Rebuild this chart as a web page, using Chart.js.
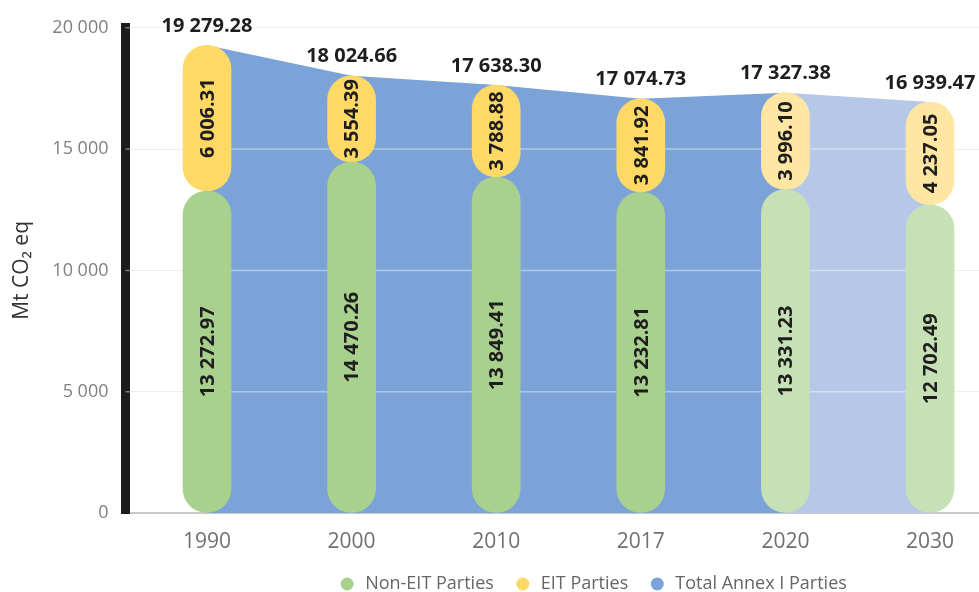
<!DOCTYPE html>
<html>
<head>
<meta charset="utf-8">
<script src="https://cdn.jsdelivr.net/npm/chart.js@4"></script>
<style>
  html, body { margin: 0; padding: 0; background: #fff; overflow: hidden; }
  #wrap { width: 1180px; height: 592px; }
</style>
</head>
<body>
<div id="wrap"><canvas id="myChart" width="1180" height="592"></canvas></div>
<script>
const years = ["1990", "2000", "2010", "2017", "2020", "2030"];
const nonEit = [13272.97, 14470.26, 13849.41, 13232.81, 13331.23, 12702.49];
const eit = [6006.31, 3554.39, 3788.88, 3841.92, 3996.10, 4237.05];
const totals = [19279.28, 18024.66, 17638.30, 17074.73, 17327.38, 16939.47];
const yTicks = [0, 5000, 10000, 15000, 20000];
const projected = [false, false, false, false, true, true]; // 2020 / 2030 drawn paler

// plot geometry (px) -> x scale range, so the category centres sit where they do in the picture
const plotLeft = 125.5, plotRight = 1180, firstX = 207, step = 144.6;
const xMin = -(firstX - plotLeft) / step;
const xMax = (plotRight - firstX) / step;

const fmt = (n, d) => {
  const [i, f] = n.toFixed(d).split(".");
  const s = i.replace(/\B(?=(\d{3})+(?!\d))/g, " ");
  return f ? s + "." + f : s;
};

// faint grid lines on top of the area, under the bars
const areaGrid = {
  id: "areaGrid",
  afterDatasetDraw(chart, args) {
    if (args.index !== 2) return;
    const {ctx, chartArea, scales: {y}} = chart;
    ctx.save();
    ctx.strokeStyle = "rgba(255,255,255,0.4)";
    ctx.lineWidth = 1.5;
    yTicks.slice(1).forEach(v => {
      const py = y.getPixelForValue(v);
      ctx.beginPath();
      ctx.moveTo(chartArea.left, py);
      ctx.lineTo(chartArea.right, py);
      ctx.stroke();
    });
    ctx.restore();
  }
};

const labelPlugin = {
  id: "valueLabels",
  afterDatasetsDraw(chart) {
    const ctx = chart.ctx;
    ctx.save();
    ctx.fillStyle = "#1e1e1e";
    ctx.textAlign = "center";
    ctx.textBaseline = "middle";
    ctx.font = "bold 20px 'Open Sans'";
    [nonEit, eit].forEach((values, di) => {
      chart.getDatasetMeta(di).data.forEach((bar, i) => {
        const {x, y, base} = bar.getProps(["x", "y", "base"], true);
        ctx.save();
        ctx.translate(x, (y + base) / 2);
        ctx.rotate(-Math.PI / 2);
        ctx.fillText(fmt(values[i], 2), 0, 1);
        ctx.restore();
      });
    });
    chart.getDatasetMeta(2).data.forEach((pt, i) => {
      ctx.fillText(fmt(totals[i], 2), pt.x, pt.y - 19);
    });
    ctx.restore();
  }
};

const chart = new Chart("myChart", {
  type: "bar",
  data: {
    datasets: [
      {
        label: "Non-EIT Parties",
        data: nonEit.map((v, i) => ({x: i, y: [0, v]})),
        backgroundColor: projected.map(p => p ? "#c7e1b6" : "#a9d18e"),
        order: 1,
        grouped: false,
        barThickness: 48,
        borderRadius: 24,
        borderSkipped: false
      },
      {
        label: "EIT Parties",
        data: eit.map((v, i) => ({x: i, y: [nonEit[i], nonEit[i] + v]})),
        backgroundColor: projected.map(p => p ? "#ffe7a3" : "#ffd966"),
        order: 2,
        grouped: false,
        barThickness: 48,
        borderRadius: 24,
        borderSkipped: false
      },
      {
        type: "line",
        label: "Total Annex I Parties",
        data: totals.map((v, i) => ({x: i, y: v})),
        backgroundColor: "#7ca3d8",
        borderWidth: 0,
        pointRadius: 0,
        fill: "origin",
        order: 3,
        segment: {
          backgroundColor: c => projected[c.p0DataIndex] ? "#b5c8e8" : undefined
        }
      }
    ]
  },
  options: {
    responsive: false,
    animation: false,
    layout: {padding: {top: 26, left: 5, right: 0, bottom: 0}},
    plugins: {
      tooltip: {enabled: false},
      legend: {
        position: "bottom",
        maxHeight: 37,
        labels: {
          usePointStyle: true,
          pointStyle: "circle",
          boxWidth: 25,
          boxHeight: 9.2,
          padding: 20,
          color: "#666",
          font: {family: "Open Sans", size: 18}
        }
      }
    },
    scales: {
      x: {
        type: "linear",
        offset: false,
        min: xMin,
        max: xMax,
        afterBuildTicks: axis => { axis.ticks = years.map((_, i) => ({value: i})); },
        afterFit: axis => { axis.height = 42; },
        grid: {display: false},
        border: {display: true, color: "#c8c8c8", width: 2},
        ticks: {
          callback: v => years[v],
          color: "#707070",
          font: {family: "Open Sans", size: 21},
          padding: 8,
          maxRotation: 0
        }
      },
      y: {
        min: 0,
        max: 20000,
        afterBuildTicks: axis => { axis.ticks = yTicks.map(v => ({value: v})); },
        afterFit: axis => { axis.width = plotLeft - 5; },
        grid: {color: "#e4e4e4", drawTicks: false},
        border: {display: true, color: "#1c1c1c", width: 9},
        ticks: {
          callback: v => fmt(v, 0),
          color: "#808080",
          font: {family: "Open Sans", size: 18},
          padding: 17
        },
        title: {
          display: true,
          text: "Mt CO₂ eq",
          color: "#333",
          font: {family: "Open Sans", size: 21}
        }
      }
    }
  },
  plugins: [areaGrid, labelPlugin]
});
</script>
</body>
</html>
